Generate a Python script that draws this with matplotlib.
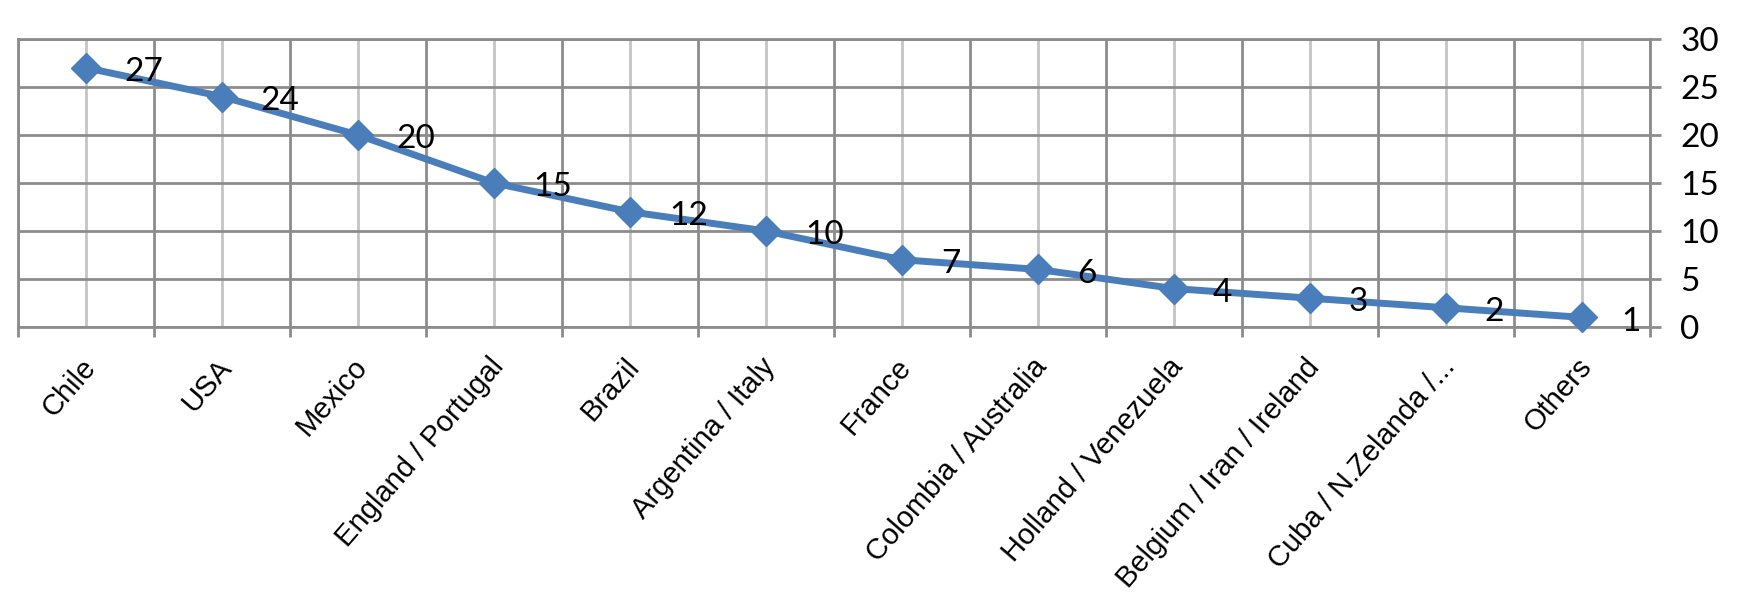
import matplotlib
matplotlib.use("Agg")
import matplotlib.pyplot as plt
from matplotlib.ticker import FixedLocator
from matplotlib.transforms import ScaledTranslation

# datos del grafico
countries = ["Chile", "USA", "Mexico", "England / Portugal", "Brazil",
             "Argentina / Italy", "France", "Colombia / Australia",
             "Holland / Venezuela", "Belgium / Iran / Ireland",
             "Cuba / N.Zelanda /...", "Others"]
counts = [27, 24, 20, 15, 12, 10, 7, 6, 4, 3, 2, 1]
y_ticks = [0, 5, 10, 15, 20, 25, 30]

blue = "#4A7EBB"
grid_dark = "#8C8C8C"
grid_light = "#C4C4C4"

fig = plt.figure(figsize=(17.43, 6.08), dpi=100)
ax = fig.add_axes([0.0103, 0.4622, 0.9363, 0.4737])

x = list(range(len(countries)))
ax.plot(x, counts, color=blue, linewidth=5, marker="D", markersize=15,
        markeredgecolor=blue, zorder=3, clip_on=False)

# etiquetas de los valores a la derecha de cada punto
for xi, v in zip(x, counts):
    ax.annotate(str(v), (xi, v), xytext=(28, -3), textcoords="offset points",
                ha="left", va="center", fontsize=24, family="Lato", color="black")

ax.set_xlim(-0.5, len(countries) - 0.5)
ax.set_ylim(0, 30)

# rejilla: lineas fuertes en los limites de categoria, suaves en el centro
ax.xaxis.set_major_locator(FixedLocator([i - 0.5 for i in range(len(countries) + 1)]))
ax.xaxis.set_minor_locator(FixedLocator(x))
ax.set_xticklabels([])
ax.tick_params(axis="x", which="major", length=7, width=2, color=grid_dark, direction="out")
ax.tick_params(axis="x", which="minor", length=0)

# nombres de paises girados
off = ScaledTranslation(-6 / 100, -26 / 100, fig.dpi_scale_trans)
for xi, name in zip(x, countries):
    ax.text(xi, 0, name, transform=ax.get_xaxis_transform() + off,
            rotation=49, rotation_mode="anchor", ha="right", va="top",
            fontsize=21, family="Liberation Sans", color="black")

ax.grid(True, which="major", axis="both", color=grid_dark, linewidth=2)
ax.grid(True, which="minor", axis="x", color=grid_light, linewidth=2)

ax.set_yticks(y_ticks)
ax.yaxis.tick_right()
ax.tick_params(axis="y", length=8, width=2, color=grid_dark, direction="out", pad=14,
               labelsize=24)
for lbl in ax.get_yticklabels():
    lbl.set_family("Lato")

for s in ax.spines.values():
    s.set_color(grid_dark)
    s.set_linewidth(2)
ax.set_axisbelow(True)

fig.savefig("out.png", dpi=100)
